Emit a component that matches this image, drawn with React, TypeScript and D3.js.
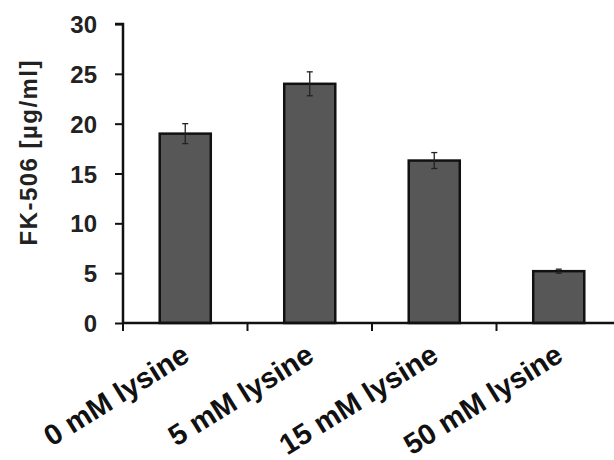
import { useEffect, useRef } from 'react';
import * as d3 from 'd3';

const categories = ['0 mM lysine', '5 mM lysine', '15 mM lysine', '50 mM lysine'];
const values = [19.0, 24.0, 16.3, 5.2];
const errors = [1.0, 1.2, 0.8, 0.2];
const yTicks = [0, 5, 10, 15, 20, 25, 30];

export default function App() {
  const svgRef = useRef<SVGSVGElement>(null);

  useEffect(() => {
    if (!svgRef.current) return;
    const svg = d3.select(svgRef.current);
    svg.selectAll('*').remove();

    const width = 614;
    const height = 460;
    const x0 = 123;
    const font = '"Liberation Sans", Arial, sans-serif';

    const x = d3.scaleBand<string>()
      .domain(categories)
      .range([x0, x0 + 4 * 124.5])
      .paddingInner(0.59)
      .paddingOuter(0.295);

    const y = d3.scaleLinear().domain([0, 30]).range([323, 24]);

    const data = categories.map((c, i) => ({ name: c, value: values[i], err: errors[i] }));

    // Bars
    svg.selectAll('rect.bar')
      .data(data)
      .enter()
      .append('rect')
      .attr('class', 'bar')
      .attr('x', d => x(d.name) || 0)
      .attr('y', d => y(d.value))
      .attr('width', x.bandwidth())
      .attr('height', d => y(0) - y(d.value))
      .attr('fill', '#575757')
      .attr('stroke', '#111')
      .attr('stroke-width', 2.5);

    // Error bars
    const eb = svg.selectAll('g.err')
      .data(data)
      .enter()
      .append('g')
      .attr('class', 'err')
      .attr('stroke', '#222')
      .attr('stroke-width', 1.3);
    const cx = (d: { name: string }) => (x(d.name) || 0) + x.bandwidth() / 2;
    eb.append('line')
      .attr('x1', cx).attr('x2', cx)
      .attr('y1', d => y(d.value + d.err))
      .attr('y2', d => y(d.value - d.err));
    eb.append('line')
      .attr('x1', d => cx(d) - 3).attr('x2', d => cx(d) + 3)
      .attr('y1', d => y(d.value + d.err)).attr('y2', d => y(d.value + d.err));
    eb.append('line')
      .attr('x1', d => cx(d) - 3).attr('x2', d => cx(d) + 3)
      .attr('y1', d => y(d.value - d.err)).attr('y2', d => y(d.value - d.err));

    // Y axis
    const yAxis = svg.append('g')
      .attr('transform', `translate(${x0},0)`)
      .call(d3.axisLeft(y).tickValues(yTicks).tickSize(8).tickPadding(18).tickFormat(d3.format('d')));
    yAxis.select('.domain').attr('stroke', '#111').attr('stroke-width', 2.5).attr('d', `M-8,${y(30)}H0V${y(0)}`);
    yAxis.selectAll('.tick line').attr('stroke', '#111').attr('stroke-width', 2);
    yAxis.selectAll('.tick text')
      .attr('font-family', font)
      .attr('font-weight', 'bold')
      .attr('font-size', 24)
      .attr('fill', '#222')
      .attr('dy', '0.36em');

    // X axis
    const step = x.step();
    const boundaries = d3.range(0, categories.length + 1).map(i => x0 + i * step);
    svg.append('line')
      .attr('x1', x0).attr('x2', width)
      .attr('y1', y(0)).attr('y2', y(0))
      .attr('stroke', '#111').attr('stroke-width', 2.5);
    svg.selectAll('line.xtick')
      .data(boundaries)
      .enter()
      .append('line')
      .attr('class', 'xtick')
      .attr('x1', d => d).attr('x2', d => d)
      .attr('y1', y(0)).attr('y2', y(0) + 8)
      .attr('stroke', '#111').attr('stroke-width', 2);

    // X labels
    svg.selectAll('text.xlabel')
      .data(categories)
      .enter()
      .append('text')
      .attr('class', 'xlabel')
      .attr('transform', d => `translate(${(x(d) || 0) + x.bandwidth() / 2 + 6},${360}) rotate(-32)`)
      .attr('text-anchor', 'end')
      .attr('font-family', font)
      .attr('font-weight', 'bold')
      .attr('font-size', 29)
      .attr('fill', '#111')
      .text(d => d);

    // Y label
    svg.append('text')
      .attr('transform', `translate(37,153) rotate(-90)`)
      .attr('text-anchor', 'middle')
      .attr('font-family', font)
      .attr('font-weight', 'bold')
      .attr('font-size', 24)
      .attr('fill', '#222')
      .attr('textLength', 185)
      .attr('lengthAdjust', 'spacing')
      .text('FK-506 [µg/ml]');

    svg.attr('width', width).attr('height', height);
  }, []);

  return (
    <svg
      ref={svgRef}
      width={614}
      height={460}
      style={{ position: 'absolute', left: 0, top: 0, background: '#fff' }}
    />
  );
}
